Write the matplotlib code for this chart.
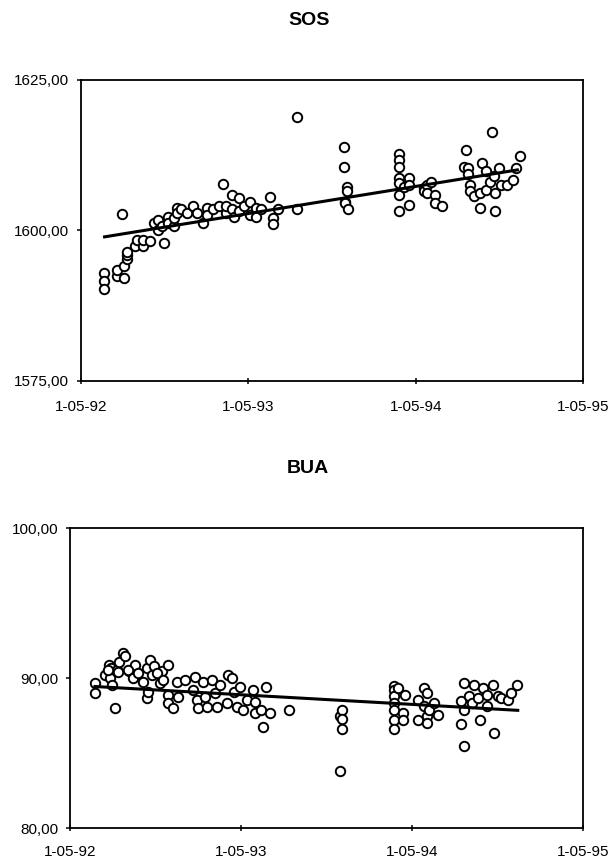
import matplotlib
matplotlib.use("Agg")
import matplotlib.pyplot as plt
import matplotlib.dates as mdates
import pandas as pd

plt.rcParams['font.family'] = ['Liberation Sans', 'DejaVu Sans']

# ---------------- SOS data ----------------
sos_dates = [
    "1992-06-21", "1992-06-21", "1992-06-21", "1992-07-18", "1992-07-18", "1992-07-29",
    "1992-08-03", "1992-08-03", "1992-08-09", "1992-08-09", "1992-08-09", "1992-08-26",
    "1992-09-01", "1992-09-14", "1992-09-14", "1992-09-29", "1992-10-07", "1992-10-16",
    "1992-10-16", "1992-10-28", "1992-10-24", "1992-11-06", "1992-11-06", "1992-11-19",
    "1992-11-19", "1992-11-27", "1992-11-27", "1992-12-06", "1992-12-19", "1992-12-31",
    "1993-01-09", "1993-01-22", "1993-01-30", "1993-01-30", "1993-02-12", "1993-02-25",
    "1993-03-07", "1993-03-14", "1993-03-14", "1993-03-26", "1993-03-26", "1993-03-31",
    "1993-04-10", "1993-04-10", "1993-04-21", "1993-05-04", "1993-05-04", "1993-05-17",
    "1993-05-17", "1993-05-29", "1993-06-18", "1993-06-24", "1993-06-24", "1993-07-04",
    "1993-08-16", "1993-08-16",
    "1993-11-26", "1993-11-26", "1993-12-03", "1993-12-03", "1993-11-28", "1993-11-28",
    "1993-12-05",
    "1994-03-25", "1994-03-25", "1994-03-25", "1994-03-25", "1994-03-25", "1994-03-25",
    "1994-03-25", "1994-04-05", "1994-04-16", "1994-04-16", "1994-04-16",
    "1994-05-18", "1994-05-18", "1994-05-26", "1994-05-26", "1994-06-04", "1994-06-12",
    "1994-06-12", "1994-06-28",
    "1994-08-18", "1994-08-15", "1994-08-24", "1994-08-24", "1994-08-28", "1994-08-28",
    "1994-09-05", "1994-09-18", "1994-09-18", "1994-09-22", "1994-10-01", "1994-10-01",
    "1994-10-14", "1994-10-09", "1994-10-18", "1994-10-22", "1994-10-22", "1994-10-29",
    "1994-11-04", "1994-11-17", "1994-11-29", "1994-12-05", "1994-12-15",
]
sos_values = [
    1593.0, 1591.6, 1590.2, 1592.4, 1593.5, 1602.7,
    1592.1, 1594.1, 1595.2, 1596.0, 1596.5, 1597.4,
    1598.5, 1597.4, 1598.5, 1598.2, 1601.2, 1600.1,
    1601.8, 1597.9, 1600.7, 1602.3, 1601.2, 1600.7,
    1602.1, 1603.7, 1602.9, 1603.5, 1602.9, 1604.0,
    1602.9, 1601.2, 1603.7, 1602.6, 1603.5, 1604.0,
    1607.8, 1602.9, 1604.0, 1605.9, 1603.5, 1602.3,
    1605.4, 1603.2, 1604.0, 1604.8, 1602.6, 1603.7,
    1602.3, 1603.5, 1605.5, 1602.1, 1601.0, 1603.5,
    1618.9, 1603.5,
    1613.8, 1610.5, 1607.3, 1606.5, 1604.8, 1604.6,
    1603.5,
    1612.7, 1611.7, 1610.6, 1608.7, 1607.9, 1605.9,
    1603.2, 1607.3, 1608.7, 1607.6, 1604.3,
    1607.0, 1606.5, 1607.6, 1606.2, 1608.1, 1605.9,
    1604.6, 1604.0,
    1613.3, 1610.6, 1610.4, 1609.3, 1607.6, 1606.5,
    1605.7, 1606.2, 1603.7, 1611.2, 1609.8, 1606.8,
    1616.4, 1608.1, 1609.0, 1606.2, 1603.2, 1610.4,
    1607.6, 1607.6, 1608.4, 1610.4, 1612.4,
]
sos_trend_dates = ["1992-06-18", "1994-12-12"]
sos_trend_values = [1598.9, 1610.1]

# ---------------- BUA data ----------------
bua_dates = [
    # upper edge of the 1992-93 cluster
    "1992-07-15", "1992-07-23", "1992-07-28", "1992-08-09", "1992-08-13", "1992-08-22",
    "1992-08-27", "1992-09-03", "1992-09-16", "1992-10-13", "1992-10-19", "1992-10-27",
    "1992-11-13", "1992-11-27",
    # body of the 1992-93 cluster
    "1992-06-23", "1992-06-23", "1992-07-25", "1992-07-29", "1992-08-05", "1992-07-21",
    "1992-08-12", "1992-09-02", "1992-09-13", "1992-09-23", "1992-10-04", "1992-10-12",
    "1992-10-15", "1992-10-22", "1992-11-02", "1992-11-09", "1992-11-16", "1992-11-26",
    "1992-11-26", "1992-12-07", "1992-12-18", "1992-12-15", "1993-01-02", "1993-01-23",
    "1993-01-19", "1993-01-27", "1993-01-30", "1993-02-09", "1993-02-13", "1993-02-17",
    "1993-02-28", "1993-03-07", "1993-03-10", "1993-03-17", "1993-04-01", "1993-04-04",
    "1993-04-11", "1993-04-15", "1993-04-22", "1993-04-29", "1993-05-06", "1993-05-13",
    "1993-05-27", "1993-05-30", "1993-05-30", "1993-06-13", "1993-06-17", "1993-06-24",
    "1993-07-01", "1993-08-12",
    # Nov/Dec 1993
    "1993-11-29", "1993-11-29", "1993-12-02", "1993-12-02", "1993-12-02",
    # spring 1994
    "1994-03-24", "1994-03-24", "1994-03-24", "1994-03-24", "1994-03-24", "1994-03-24",
    "1994-03-24", "1994-04-01", "1994-04-12", "1994-04-12", "1994-04-16",
    "1994-05-13", "1994-05-13", "1994-05-26", "1994-05-26", "1994-06-01", "1994-06-01",
    "1994-06-01", "1994-06-07", "1994-06-16", "1994-06-26",
    # autumn 1994
    "1994-08-13", "1994-08-13", "1994-08-21", "1994-08-21", "1994-08-20", "1994-08-30",
    "1994-09-07", "1994-09-11", "1994-09-19", "1994-09-24", "1994-09-30", "1994-10-09",
    "1994-10-09", "1994-10-20", "1994-10-23", "1994-10-31", "1994-11-08", "1994-11-21",
    "1994-11-29", "1994-12-12",
]
bua_values = [
    90.2, 90.9, 90.67, 90.56, 91.1, 91.67,
    91.44, 90.44, 90.9, 90.67, 91.2, 90.78,
    90.44, 90.9,
    89.64, 88.98, 90.0, 89.53, 88.02, 90.53,
    90.42, 90.53, 90.0, 90.33, 89.76, 88.67,
    89.09, 90.2, 90.33, 89.67, 89.87, 88.87,
    88.33, 88.0, 88.76, 89.76, 89.87, 90.09,
    89.2, 88.53, 88.0, 89.76, 88.76, 88.09,
    89.87, 89.0, 88.09, 89.53, 88.33, 90.2,
    90.0, 89.09, 88.09, 89.42, 87.87, 88.53,
    89.2, 87.64, 88.42, 87.87, 86.76, 89.42,
    87.64, 87.87,
    87.44, 83.82, 87.84, 87.29, 86.6,
    89.44, 89.22, 88.78, 88.33, 87.89, 87.22,
    86.6, 89.33, 87.67, 87.22, 88.89,
    88.56, 87.22, 89.33, 88.11, 89.0, 87.44,
    87.0, 87.89, 88.33, 87.56,
    88.44, 86.93, 89.67, 87.89, 85.44, 88.78,
    88.33, 89.56, 88.67, 87.22, 89.33, 88.89,
    88.11, 89.56, 86.33, 88.78, 88.67, 88.56,
    89.0, 89.56,
]
bua_trend_dates = ["1992-06-20", "1994-12-16"]
bua_trend_values = [89.44, 87.84]

# ---------------- axis settings ----------------
x_ticks = ["1992-05-01", "1993-05-01", "1994-05-01", "1995-05-01"]
x_tick_labels = ["1-05-92", "1-05-93", "1-05-94", "1-05-95"]
sos_yticks = [1575, 1600, 1625]
sos_ytick_labels = ["1575,00", "1600,00", "1625,00"]
bua_yticks = [80, 90, 100]
bua_ytick_labels = ["80,00", "90,00", "100,00"]

fig = plt.figure(figsize=(6.12, 8.60), dpi=100)
fig.patch.set_facecolor("white")

ax1 = fig.add_axes([0.1324, 0.5570, 0.8203, 0.3500])
ax2 = fig.add_axes([0.1144, 0.0372, 0.8382, 0.3488])


def draw(ax, dates, values, tdates, tvalues, yticks, ylabels, xpad):
    d = pd.to_datetime(dates)
    ax.plot(pd.to_datetime(tdates), tvalues, color="black", lw=2.2,
            solid_capstyle="butt", zorder=3)
    ax.plot(d, values, linestyle="none", marker="o", markersize=6.8,
            markerfacecolor="white", markeredgecolor="black",
            markeredgewidth=1.4, zorder=2)
    xt = pd.to_datetime(x_ticks)
    ax.set_xlim(xt[0], xt[-1])
    ax.set_xticks(xt)
    ax.set_xticklabels(x_tick_labels)
    ax.set_ylim(yticks[0], yticks[-1])
    ax.set_yticks(yticks)
    ax.set_yticklabels(ylabels)
    for s in ax.spines.values():
        s.set_linewidth(1.3)
        s.set_color("black")
    ax.tick_params(axis="x", direction="inout", length=5, width=1.1,
                   pad=xpad, labelsize=11)
    ax.tick_params(axis="y", direction="out", length=3, width=1.1,
                   pad=5.5, labelsize=11)


draw(ax1, sos_dates, sos_values, sos_trend_dates, sos_trend_values,
     sos_yticks, sos_ytick_labels, 11)
draw(ax2, bua_dates, bua_values, bua_trend_dates, bua_trend_values,
     bua_yticks, bua_ytick_labels, 10)

fig.text(0.505, 0.9756, "SOS", ha="center", va="center",
         fontsize=14, fontweight="bold")
fig.text(0.503, 0.4558, "BUA", ha="center", va="center",
         fontsize=14, fontweight="bold")

fig.savefig("out.png", dpi=100)
